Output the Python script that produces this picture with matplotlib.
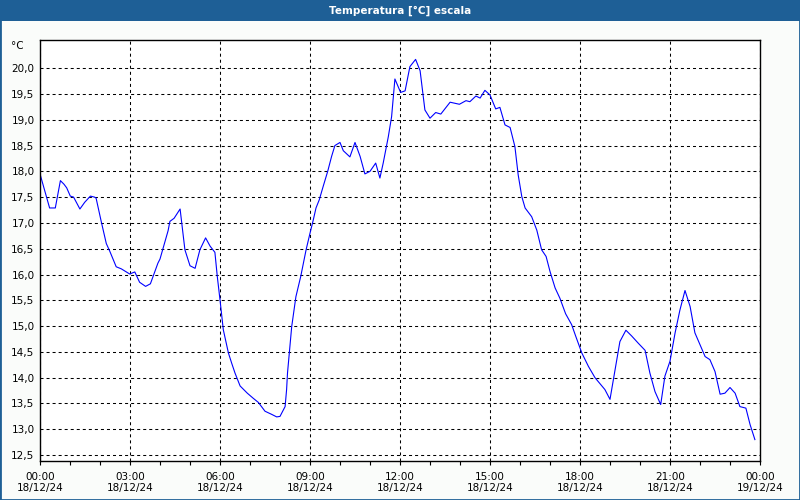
import numpy as np
import matplotlib
matplotlib.use('Agg')
import matplotlib.pyplot as plt
from matplotlib.patches import Rectangle
from matplotlib.ticker import MultipleLocator, FixedLocator, FuncFormatter

# hours since 18/12/24 00:00 and temperature
hours = [0.00, 0.32, 0.51, 0.68, 0.80, 0.89, 1.01, 1.12, 1.33, 1.49,
         1.68, 1.82, 1.87, 2.04, 2.21, 2.32, 2.54, 2.71, 2.99, 3.16,
         3.32, 3.52, 3.68, 3.93, 4.00, 4.27, 4.33, 4.47, 4.67, 4.83,
         5.00, 5.17, 5.33, 5.52, 5.67, 5.83, 5.91, 6.00, 6.11, 6.28,
         6.39, 6.50, 6.67, 6.91, 7.11, 7.28, 7.50, 7.72, 7.89, 8.00,
         8.17, 8.22, 8.25, 8.39, 8.53, 8.69, 8.87, 9.00, 9.11, 9.20,
         9.31, 9.44, 9.59, 9.72, 9.83, 10.00, 10.11, 10.33, 10.50, 10.67,
         10.83, 11.00, 11.19, 11.33, 11.44, 11.61, 11.72, 11.83, 12.02, 12.17,
         12.33, 12.52, 12.67, 12.83, 13.00, 13.19, 13.36, 13.67, 13.98, 14.20,
         14.33, 14.53, 14.67, 14.83, 15.00, 15.19, 15.33, 15.50, 15.67, 15.83,
         15.94, 16.06, 16.17, 16.39, 16.56, 16.72, 16.87, 17.00, 17.17, 17.33,
         17.52, 17.72, 17.86, 18.06, 18.28, 18.50, 18.67, 18.83, 19.00, 19.17,
         19.33, 19.53, 19.72, 19.94, 20.17, 20.33, 20.50, 20.69, 20.83, 21.00,
         21.17, 21.33, 21.50, 21.67, 21.83, 22.00, 22.17, 22.33, 22.50, 22.67,
         22.83, 23.00, 23.17, 23.33, 23.53, 23.67, 23.83]
temp = [17.95, 17.29, 17.29, 17.82, 17.75, 17.68, 17.52, 17.50, 17.27, 17.40,
        17.52, 17.50, 17.48, 17.03, 16.60, 16.46, 16.15, 16.11, 16.01, 16.05,
        15.85, 15.77, 15.82, 16.22, 16.30, 16.85, 17.03, 17.09, 17.27, 16.48,
        16.17, 16.12, 16.48, 16.71, 16.55, 16.43, 15.96, 15.51, 14.93, 14.48,
        14.28, 14.09, 13.84, 13.70, 13.60, 13.52, 13.35, 13.29, 13.24, 13.25,
        13.44, 13.77, 14.09, 14.99, 15.57, 15.96, 16.48, 16.80, 17.06, 17.29,
        17.45, 17.71, 18.00, 18.29, 18.50, 18.56, 18.40, 18.28, 18.56, 18.29,
        17.95, 18.00, 18.16, 17.87, 18.16, 18.67, 19.06, 19.79, 19.53, 19.56,
        20.03, 20.17, 19.95, 19.19, 19.03, 19.14, 19.11, 19.34, 19.30, 19.37,
        19.35, 19.46, 19.42, 19.57, 19.48, 19.21, 19.24, 18.90, 18.85, 18.48,
        17.93, 17.51, 17.29, 17.12, 16.86, 16.48, 16.35, 16.06, 15.74, 15.54,
        15.24, 15.03, 14.80, 14.48, 14.22, 14.00, 13.88, 13.77, 13.58, 14.16,
        14.70, 14.92, 14.81, 14.67, 14.53, 14.09, 13.73, 13.48, 14.03, 14.32,
        14.87, 15.31, 15.69, 15.38, 14.87, 14.64, 14.41, 14.35, 14.12, 13.68,
        13.70, 13.81, 13.70, 13.44, 13.41, 13.09, 12.80]

tick_hours = [0, 3, 6, 9, 12, 15, 18, 21, 24]
tick_labels = ['00:00\n18/12/24', '03:00\n18/12/24', '06:00\n18/12/24',
               '09:00\n18/12/24', '12:00\n18/12/24', '15:00\n18/12/24',
               '18:00\n18/12/24', '21:00\n18/12/24', '00:00\n19/12/24']
y_ticks = [12.5, 13.0, 13.5, 14.0, 14.5, 15.0, 15.5, 16.0, 16.5,
           17.0, 17.5, 18.0, 18.5, 19.0, 19.5, 20.0]

title = 'Temperatura [°C] escala'
bar_color = '#1e5f96'

fig = plt.figure(figsize=(8, 5), dpi=100, facecolor='#fafcfa')

# title bar
fig.patches.append(Rectangle((0, 1 - 21 / 500), 1, 21 / 500, transform=fig.transFigure,
                             facecolor=bar_color, edgecolor='none', zorder=0))
fig.text(0.5, 1 - 10.5 / 500, title, color='white', fontsize=7.5, fontweight='bold',
         ha='center', va='center')
# window border
fig.patches.append(Rectangle((0, 0), 1, 1, transform=fig.transFigure, facecolor='none',
                             edgecolor=bar_color, linewidth=2, zorder=5))

ax = fig.add_axes([40 / 800, 1 - 460.5 / 500, 720 / 800, 420.2 / 500])
ax.set_facecolor('white')
ax.plot(hours, temp, color='#0000ff', linewidth=0.8)

ax.set_xlim(0, 24)
ax.set_ylim(12.395, 20.54)
ax.set_xticks(tick_hours)
ax.set_xticklabels(tick_labels)
ax.xaxis.set_minor_locator(MultipleLocator(1))
ax.yaxis.set_major_locator(FixedLocator(y_ticks))
ax.yaxis.set_major_formatter(FuncFormatter(lambda v, p: ('%.1f' % v).replace('.', ',')))

ax.tick_params(axis='x', which='both', direction='out', length=3, width=0.8,
               labelsize=7.5, pad=5)
ax.tick_params(axis='y', length=0, labelsize=7.5, pad=4)
for s in ax.spines.values():
    s.set_linewidth(1)
    s.set_color('black')

ax.grid(True, which='major', color='black', linewidth=0.75, linestyle=(0, (2.9, 2.9)))

fig.text(24 / 800, 1 - 46 / 500, '°C', fontsize=7.5, ha='right', va='center')

fig.savefig('out.png', dpi=100, facecolor=fig.get_facecolor())
